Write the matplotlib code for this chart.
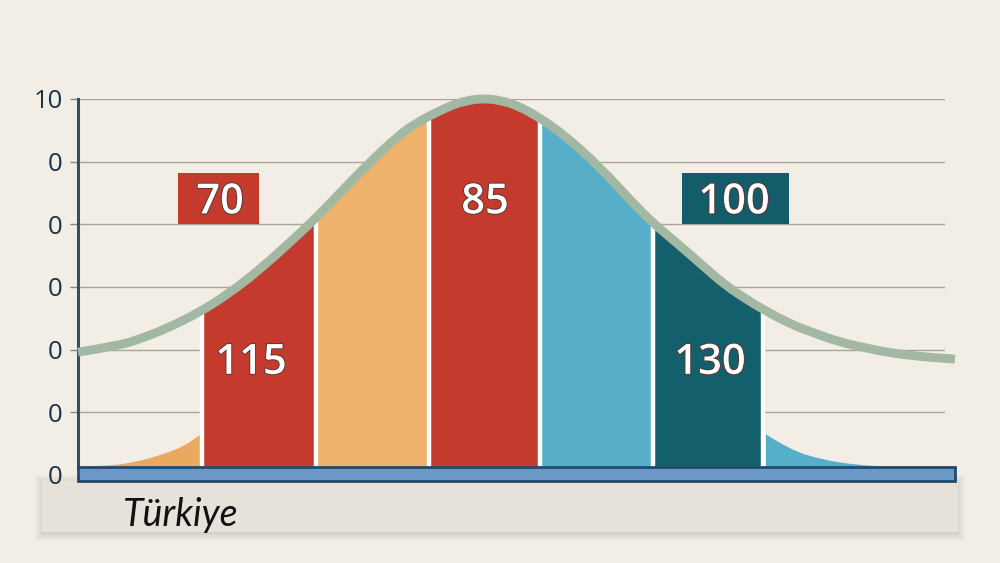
import matplotlib
matplotlib.use('Agg')
import matplotlib.pyplot as plt
import matplotlib.patheffects as pe
from matplotlib.patches import PathPatch, Rectangle
from matplotlib.path import Path

# curve (x is pixel-like position, y in gridline units)
curve_x = [78, 117, 140, 167, 200, 230, 260, 300, 317, 340, 367, 400, 415, 428, 450, 465, 483, 500, 517,
           540, 567, 600, 633, 653, 677, 700, 725, 747, 760, 790, 815, 840, 865, 890, 920, 955]
curve_y = [1.96, 2.06, 2.17, 2.34, 2.60, 2.91, 3.28, 3.86, 4.12, 4.50, 4.95, 5.44, 5.60, 5.72, 5.89, 5.97, 6.01, 5.98, 5.90,
           5.70, 5.39, 4.91, 4.34, 4.02, 3.70, 3.38, 3.03, 2.80, 2.67, 2.41, 2.26, 2.12, 2.03, 1.95, 1.89, 1.85]

tail_left_x = [78, 100, 133, 167, 185, 200]
tail_left_y = [0.13, 0.14, 0.19, 0.35, 0.47, 0.64]
tail_right_x = [766, 790, 823, 857, 890]
tail_right_y = [0.65, 0.40, 0.24, 0.16, 0.13]

band_edges = [202, 316, 429, 540, 653, 763]
band_colors = ['#c43b2d', '#efb26a', '#c43b2d', '#56aec9', '#135f6b']

tick_pos = [0, 1, 2, 3, 4, 5, 6]
tick_labels = ['0', '0', '0', '0', '0', '0', '10']

inside_labels = ['115', '85', '130']
inside_x = [251, 485, 710]
inside_y = [1.79, 4.35, 1.79]

box_labels = ['70', '100']
box_left = [178, 682]
box_right = [259, 789]
box_text_x = [220, 734]
box_colors = ['#c43b2d', '#125d69']

paper = '#f2eee6'
navy = '#2f4f6c'
base = 0.13


def rounded(xs, ys, close_at=None):
    # quadratic segments through the midpoints, so the read points do not show as corners
    pts = list(zip(xs, ys))
    verts = [pts[0]]
    codes = [Path.MOVETO]
    for i in range(1, len(pts) - 1):
        mid = ((pts[i][0] + pts[i + 1][0]) / 2, (pts[i][1] + pts[i + 1][1]) / 2)
        verts += [pts[i], mid]
        codes += [Path.CURVE3, Path.CURVE3]
    verts.append(pts[-1])
    codes.append(Path.LINETO)
    if close_at is not None:
        verts += [(xs[-1], close_at), (xs[0], close_at), pts[0]]
        codes += [Path.LINETO, Path.LINETO, Path.CLOSEPOLY]
    return Path(verts, codes)


fig = plt.figure(figsize=(10, 5.63), dpi=100, facecolor=paper)
ax = fig.add_axes([0.078, 88 / 563, 0.867, 376 / 563])
ax.patch.set_visible(False)
ax.set_xlim(78, 945)
ax.set_ylim(0, 6)
plt.rcParams['font.family'] = ['Open Sans', 'DejaVu Sans']

# paper strip under the chart, with a soft shadow
for grow, alpha in [(7, 0.03), (5, 0.04), (3, 0.05), (1, 0.07)]:
    fig.add_artist(Rectangle(((42 - grow) / 1000, (563 - 533 - grow - 1) / 563),
                             (916 + 2 * grow) / 1000, (52 + 2 * grow) / 563,
                             transform=fig.transFigure, fc='#6b645a', ec='none', alpha=alpha, zorder=-2))
fig.add_artist(Rectangle((42 / 1000, (563 - 532) / 563), 916 / 1000, 51 / 563,
                         transform=fig.transFigure, fc='#e6e2da', ec='none', zorder=-1))

ax.grid(axis='y', color='#a9a59c', lw=1.0, zorder=1)
ax.set_axisbelow(True)
ax.set_xticks([])
ax.set_yticks(tick_pos)
ax.set_yticklabels(tick_labels, fontsize=18.5, color='#1a3348', family=['Open Sans', 'DejaVu Sans'])
ax.tick_params(axis='y', length=6, width=1.0, color='#7f8a90', pad=5)
ax.yaxis.get_major_ticks()[0].tick1line.set_visible(False)

for side in ['top', 'right', 'bottom']:
    ax.spines[side].set_visible(False)
ax.spines['left'].set_color(navy)
ax.spines['left'].set_linewidth(2.2)
ax.spines['left'].set_bounds(base, 6)

# everything under the curve gets clipped by this shape
under_patch = PathPatch(rounded(curve_x, curve_y, close_at=base), transform=ax.transData, fc='none', ec='none')
ax.add_patch(under_patch)

for i, c in enumerate(band_colors):
    bar = ax.bar(band_edges[i], 6.2 - base, width=band_edges[i + 1] - band_edges[i], bottom=base,
                 align='edge', color=c, zorder=2)
    bar[0].set_clip_path(under_patch)

strips = ax.vlines(band_edges, base, 6.2, color='white', lw=3.2, zorder=3)
strips.set_clip_path(under_patch)

ax.add_patch(PathPatch(rounded(tail_left_x, tail_left_y, close_at=base), fc='#eaa95f', ec='none', zorder=2))
ax.add_patch(PathPatch(rounded(tail_right_x, tail_right_y, close_at=base), fc='#56aec9', ec='none', zorder=2))

ax.add_patch(PathPatch(rounded(curve_x, curve_y), fc='none', ec='#a3b8a3', lw=6.4, capstyle='butt',
                       joinstyle='round', zorder=4, clip_on=False))

# base band along the x axis
ax.bar(78, 0.226, width=877, bottom=-0.096, align='edge', color='#6b98c6', edgecolor='#234a6e',
       lw=2.0, zorder=5, clip_on=False)

outline = [pe.withStroke(linewidth=1.4, foreground='#5a3a34')]
for s, x, y in zip(inside_labels, inside_x, inside_y):
    ax.text(x, y, s, color='white', fontsize=30, ha='center', va='center', fontweight=600,
            path_effects=outline, zorder=6)

for s, l, r, x, c in zip(box_labels, box_left, box_right, box_text_x, box_colors):
    ax.bar(l, 0.82, width=r - l, bottom=4.0, align='edge', color=c, zorder=3)
    ax.text(x, 4.35, s, color='white', fontsize=30, ha='center', va='center', fontweight=600,
            path_effects=outline, zorder=6)

ax.text(181, -0.64, 'Türkiye', color='#111111', fontsize=27, ha='center', va='center',
        family=['Lato', 'DejaVu Sans'], style='italic', fontweight='normal', clip_on=False, zorder=6)

fig.savefig('out.png', dpi=100, facecolor=paper)
